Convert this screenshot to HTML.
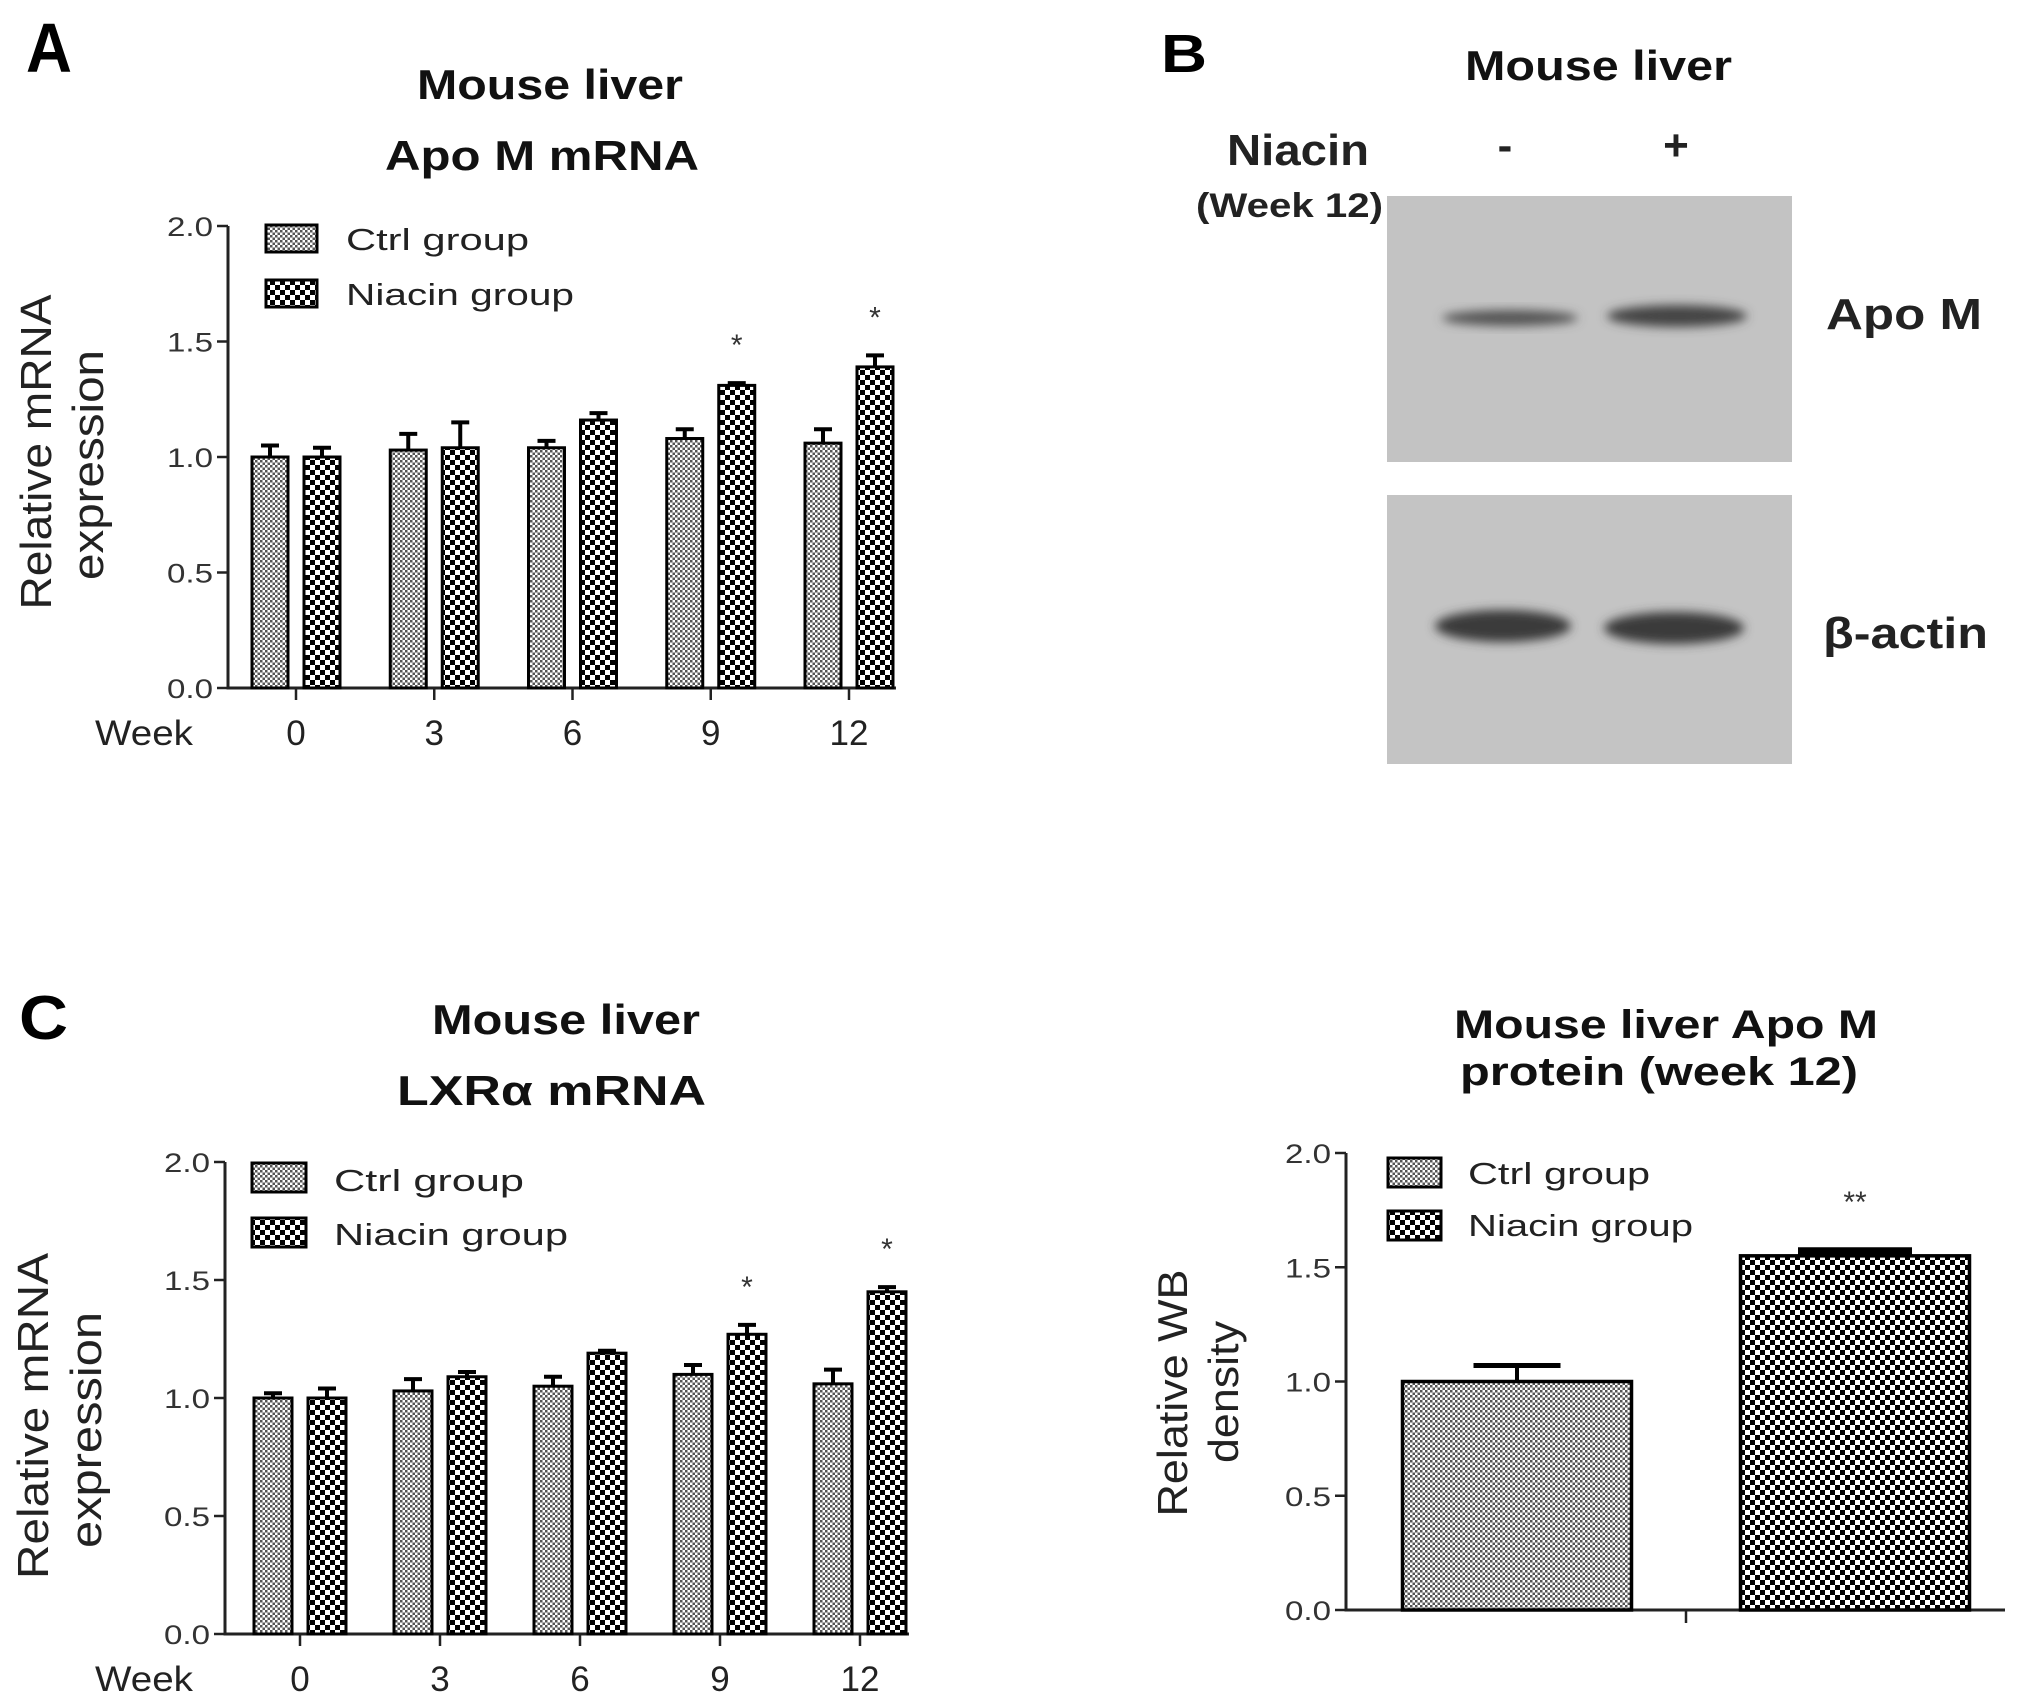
<!DOCTYPE html>
<html><head><meta charset="utf-8"><style>
html,body{margin:0;padding:0;background:#fff;}
svg{display:block;font-family:"Liberation Sans",Arial,sans-serif;}
</style></head><body>
<svg id="fig" width="2031" height="1697" viewBox="0 0 2031 1697" xmlns="http://www.w3.org/2000/svg">
<defs>
<pattern id="pCtrl" patternUnits="userSpaceOnUse" width="5" height="5"><rect width="5" height="5" fill="#fff"/><rect width="2.5" height="2.5" fill="#555"/><rect x="2.5" y="2.5" width="2.5" height="2.5" fill="#555"/></pattern>
<pattern id="pNia" patternUnits="userSpaceOnUse" width="10" height="10"><rect width="10" height="10" fill="#fff"/><rect width="5" height="5" fill="#000"/><rect x="5" y="5" width="5" height="5" fill="#000"/></pattern>
<filter id="blur" x="-20%" y="-50%" width="140%" height="200%"><feGaussianBlur stdDeviation="5"/></filter>
</defs>

<text x="26" y="72" font-size="70" font-weight="bold" textLength="46" lengthAdjust="spacingAndGlyphs">A</text>
<text x="417" y="99" font-size="42" font-weight="bold" fill="#111" textLength="266" lengthAdjust="spacingAndGlyphs">Mouse liver</text>
<text x="385" y="170" font-size="42" font-weight="bold" fill="#111" textLength="314" lengthAdjust="spacingAndGlyphs">Apo M mRNA</text>

<text x="19" y="1039" font-size="62" font-weight="bold" textLength="49" lengthAdjust="spacingAndGlyphs">C</text>
<text x="432" y="1034" font-size="42" font-weight="bold" fill="#111" textLength="268" lengthAdjust="spacingAndGlyphs">Mouse liver</text>
<text x="397" y="1105" font-size="42" font-weight="bold" fill="#111" textLength="309" lengthAdjust="spacingAndGlyphs">LXRα mRNA</text>

<text x="1454" y="1038" font-size="40" font-weight="bold" fill="#111" textLength="424" lengthAdjust="spacingAndGlyphs">Mouse liver Apo M</text>
<text x="1460" y="1085" font-size="40" font-weight="bold" fill="#111" textLength="398" lengthAdjust="spacingAndGlyphs">protein (week 12)</text>

<g>
<text x="1161" y="72" font-size="54" font-weight="bold" textLength="46" lengthAdjust="spacingAndGlyphs">B</text>
<text x="1465" y="80" font-size="42" font-weight="bold" fill="#111" textLength="267" lengthAdjust="spacingAndGlyphs">Mouse liver</text>
<text x="1227" y="165" font-size="44" font-weight="bold" fill="#222" textLength="142" lengthAdjust="spacingAndGlyphs">Niacin</text>
<text x="1196" y="217" font-size="34" font-weight="bold" fill="#222" textLength="187" lengthAdjust="spacingAndGlyphs">(Week 12)</text>
<text x="1505" y="160" font-size="44" font-weight="bold" text-anchor="middle" fill="#222">-</text>
<text x="1676" y="160" font-size="44" font-weight="bold" text-anchor="middle" fill="#222">+</text>
<rect x="1387" y="196" width="405" height="266" fill="#c3c3c3"/>
<rect x="1387" y="495" width="405" height="269" fill="#c4c4c4"/>
<ellipse cx="1510" cy="318" rx="68" ry="8" fill="#555" filter="url(#blur)"/>
<ellipse cx="1677" cy="316" rx="70" ry="11" fill="#444" filter="url(#blur)"/>
<ellipse cx="1503" cy="626" rx="68" ry="16" fill="#3a3a3a" filter="url(#blur)"/>
<ellipse cx="1674" cy="628" rx="70" ry="16" fill="#3a3a3a" filter="url(#blur)"/>
<text x="1826" y="329" font-size="44" font-weight="bold" fill="#222" textLength="156" lengthAdjust="spacingAndGlyphs">Apo M</text>
<text x="1823" y="648" font-size="44" font-weight="bold" fill="#222" textLength="165" lengthAdjust="spacingAndGlyphs">β-actin</text>
</g>

<g id="chartA"></g>
<g id="chartC"></g>
<g id="chartD"></g>
</svg>
<script>
// ---- Chart A data ----
const aWeeks = ["0","3","6","9","12"];
const aCtrl = [1.00, 1.03, 1.04, 1.08, 1.06];
const aCtrlErr = [0.05, 0.07, 0.03, 0.04, 0.06];
const aNiacin = [1.00, 1.04, 1.16, 1.31, 1.39];
const aNiacinErr = [0.04, 0.11, 0.03, 0.01, 0.05];
const aStars = ["", "", "", "*", "*"];
// ---- Chart C data ----
const cWeeks = ["0","3","6","9","12"];
const cCtrl = [1.00, 1.03, 1.05, 1.10, 1.06];
const cCtrlErr = [0.02, 0.05, 0.04, 0.04, 0.06];
const cNiacin = [1.00, 1.09, 1.19, 1.27, 1.45];
const cNiacinErr = [0.04, 0.02, 0.01, 0.04, 0.02];
const cStars = ["", "", "", "*", "*"];
// ---- Chart D data ----
const dGroups = ["Ctrl group", "Niacin group"];
const dValues = [1.00, 1.55];
const dErr = [0.07, 0.02];
const dStars = ["", "**"];
// ---- shared axis ticks ----
const yTicks = [0, 0.5, 1.0, 1.5, 2.0];
const yTickLabels = ["0.0", "0.5", "1.0", "1.5", "2.0"];
const legendLabels = ["Ctrl group", "Niacin group"];

const NS = "http://www.w3.org/2000/svg";
function mk(parent, tag, attrs, txt) {
  const e = document.createElementNS(NS, tag);
  for (const k in attrs) e.setAttribute(k, attrs[k]);
  if (txt !== undefined) e.textContent = txt;
  parent.appendChild(e);
  return e;
}

function drawAxes(g, L) {
  const y = v => L.y0 - (v / 2.0) * (L.y0 - L.y2);
  let ax = mk(g, "line", {x1: L.ax, y1: L.y2, x2: L.ax, y2: L.y0 + 1.5, stroke: "#222", "stroke-width": 3});
  
  
  let bx = mk(g, "line", {x1: L.ax - 1.5, y1: L.y0, x2: L.xEnd, y2: L.y0, stroke: "#222", "stroke-width": 3});
  
  
  yTicks.forEach((v, i) => {
    let t = mk(g, "line", {x1: L.ax - 11, y1: y(v), x2: L.ax, y2: y(v), stroke: "#222", "stroke-width": 2.5});
    
    
    let tl = mk(g, "text", {x: L.ax - 15, y: y(v) + 10, "font-size": 27, "text-anchor": "end", fill: "#333", textLength: 46, lengthAdjust: "spacingAndGlyphs"}, yTickLabels[i]);
    
    
  });
  return y;
}

function drawLegend(g, L) {
  const pats = ["url(#pCtrl)", "url(#pNia)"];
  legendLabels.forEach((lab, i) => {
    let r = mk(g, "rect", {x: L.lx, y: L.ly[i], width: L.lw, height: L.lh, fill: pats[i], stroke: "#000", "stroke-width": 3});
    
    
    let t = mk(g, "text", {x: L.tx, y: L.tb[i], "font-size": 31, fill: "#222", textLength: L.tl[i], lengthAdjust: "spacingAndGlyphs"}, lab);
    
    
  });
}

function errBar(g, cx, yTop, yErr, cap, sw) {
  let l = mk(g, "line", {x1: cx, y1: yTop, x2: cx, y2: yErr, stroke: "#000", "stroke-width": 4});
  
  
  let c = mk(g, "line", {x1: cx - cap / 2, y1: yErr, x2: cx + cap / 2, y2: yErr, stroke: "#000", "stroke-width": sw});
  
  
}

function drawGrouped(g, L, cats, ctrl, ctrlE, nia, niaE, stars) {
  const y = drawAxes(g, L);
  const n = cats.length;
  const xc = i => L.x0 + i * (L.x4 - L.x0) / (n - 1);
  cats.forEach((c, i) => {
    const cx = xc(i);
    let tk = mk(g, "line", {x1: cx, y1: L.y0, x2: cx, y2: L.y0 + 12, stroke: "#222", "stroke-width": 2.5});
    
    
    let tl = mk(g, "text", {x: cx, y: L.wb, "font-size": 35, "text-anchor": "middle", fill: "#222"}, c);
    
    
    const series = [[ctrl, ctrlE, "url(#pCtrl)", -L.off, 'bar-ctrl'], [nia, niaE, "url(#pNia)", L.off, 'bar-niacin']];
    series.forEach(s => {
      const bx = cx + s[3];
      const v = s[0][i], e = s[1][i];
      errBar(g, bx, y(v), y(v + e), 18, 4);
      let b = mk(g, "rect", {x: bx - L.bw / 2, y: y(v), width: L.bw, height: L.y0 - y(v), fill: s[2], stroke: "#000", "stroke-width": 3});
      
      
    });
    if (stars[i]) {
      let st = mk(g, "text", {x: cx + L.off, y: y(nia[i] + niaE[i]) - 28, "font-size": 30, "text-anchor": "middle", fill: "#333"}, stars[i]);
      
      
    }
  });
  let wk = mk(g, "text", {x: L.wx, y: L.wb, "font-size": 35, fill: "#222", textLength: 98, lengthAdjust: "spacingAndGlyphs"}, "Week");
  
  
  drawLegend(g, L);
}

function yTitle(g, x, cy, txt, len, fs, name) {
  let t = mk(g, "text", {transform: `translate(${x},${cy}) rotate(-90)`, "font-size": fs, "text-anchor": "middle", fill: "#222", textLength: len, lengthAdjust: "spacingAndGlyphs"}, txt);
  
  
}

const gA = document.getElementById("chartA");
drawGrouped(gA, {ax: 228, y0: 688, y2: 226, xEnd: 896, x0: 296, x4: 849, off: 26, bw: 36, wb: 745, wx: 95,
  lx: 266, ly: [225, 280], lw: 51, lh: 27, tx: 346, tb: [250, 305], tl: [183, 228]},
  aWeeks, aCtrl, aCtrlErr, aNiacin, aNiacinErr, aStars);
yTitle(gA, 51, 452, "Relative mRNA", 315, 44, 'y-axis-title-line1');
yTitle(gA, 103, 465, "expression", 230, 44, 'y-axis-title-line2');

const gC = document.getElementById("chartC");
drawGrouped(gC, {ax: 225, y0: 1634, y2: 1162, xEnd: 909, x0: 300, x4: 860, off: 27, bw: 38, wb: 1691, wx: 95,
  lx: 252, ly: [1163, 1218], lw: 54, lh: 29, tx: 334, tb: [1191, 1245], tl: [190, 234]},
  cWeeks, cCtrl, cCtrlErr, cNiacin, cNiacinErr, cStars);
yTitle(gC, 48, 1416, "Relative mRNA", 326, 44, 'y-axis-title-line1');
yTitle(gC, 101, 1430, "expression", 236, 44, 'y-axis-title-line2');

const gD = document.getElementById("chartD");
(function () {
  const L = {ax: 1346, y0: 1610, y2: 1153, xEnd: 2005};
  const y = drawAxes(gD, L);
  let tk = mk(gD, "line", {x1: 1686, y1: L.y0, x2: 1686, y2: L.y0 + 13, stroke: "#222", "stroke-width": 2.5});
  
  
  const centers = [1517, 1855];
  const bw = 229;
  const pats = ["url(#pCtrl)", "url(#pNia)"];
  dGroups.forEach((grp, i) => {
    const v = dValues[i], e = dErr[i];
    errBar(gD, centers[i], y(v), y(v + e), i === 0 ? 87 : 114, i === 0 ? 5 : 8);
    let b = mk(gD, "rect", {x: centers[i] - bw / 2, y: y(v), width: bw, height: L.y0 - y(v), fill: pats[i], stroke: "#000", "stroke-width": 3.5});
    
    
    if (dStars[i]) {
      let st = mk(gD, "text", {x: centers[i], y: 1212, "font-size": 30, "text-anchor": "middle", fill: "#333"}, dStars[i]);
      
      
    }
  });
  drawLegend(gD, {lx: 1388, ly: [1158, 1211], lw: 53, lh: 29, tx: 1468, tb: [1184, 1236], tl: [182, 225]});
  yTitle(gD, 1187, 1393, "Relative WB", 247, 42, 'y-axis-title-line1');
  yTitle(gD, 1238, 1392, "density", 142, 42, 'y-axis-title-line2');
})();
</script>
</body></html>
